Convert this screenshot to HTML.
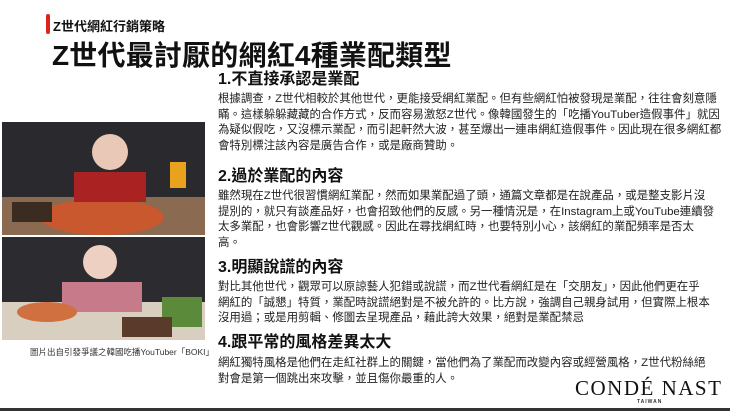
<!DOCTYPE html>
<html><head><meta charset="utf-8"><style>
body{margin:0;width:730px;height:411px;background:#fff;position:relative;overflow:hidden;font-family:"Liberation Sans","Noto Sans CJK TC",sans-serif;color:#111}
.a{position:absolute;white-space:nowrap}
.h{font-size:16px;line-height:18px;font-weight:bold;left:218px}
.p{font-size:11.45px;line-height:15.6px;left:218px;color:#222}
</style></head><body>
<div class="a" style="left:46px;top:14px;width:4px;height:20px;background:#d9261c;border-radius:2px"></div>
<div class="a" style="left:53px;top:16px;font-size:13px;font-weight:bold">Z世代網紅行銷策略</div>
<div class="a" style="left:52px;top:34px;font-size:28px;font-weight:bold;letter-spacing:0.2px">Z世代最討厭的網紅4種業配類型</div>

<svg class="a" style="left:2px;top:122px" width="203" height="113">
<rect width="203" height="113" fill="#2a2a2e"/><rect y="75" width="203" height="38" fill="#8a6a50"/>
<ellipse cx="100" cy="95" rx="62" ry="18" fill="#c9582e"/><circle cx="108" cy="30" r="18" fill="#e9c8b8"/>
<rect x="72" y="50" width="72" height="30" fill="#a22"/><rect x="168" y="40" width="16" height="26" fill="#e9a21e"/>
<rect x="10" y="80" width="40" height="20" fill="#3a2c20"/></svg>
<svg class="a" style="left:2px;top:237px" width="203" height="103">
<rect width="203" height="103" fill="#2c2c30"/><rect y="65" width="203" height="38" fill="#d9cfc0"/>
<rect x="60" y="45" width="80" height="30" fill="#c77b8a"/><circle cx="98" cy="25" r="17" fill="#edd0c2"/>
<ellipse cx="45" cy="75" rx="30" ry="10" fill="#d07040"/><rect x="160" y="60" width="40" height="30" fill="#5a8a3a"/>
<rect x="120" y="80" width="50" height="20" fill="#5a3a2a"/></svg>
<div class="a" style="left:30px;top:346px;font-size:8.5px;color:#333">圖片出自引發爭議之韓國吃播YouTuber「BOKI」</div>

<div class="a h" style="top:71px">1.不直接承認是業配</div>
<div class="a p" style="top:92px">根據調查，Z世代相較於其他世代，更能接受網紅業配。但有些網紅怕被發現是業配，往往會刻意隱<br>瞞。這樣躲躲藏藏的合作方式，反而容易激怒Z世代。像韓國發生的「吃播YouTuber造假事件」就因<br>為疑似假吃，又沒標示業配，而引起軒然大波，甚至爆出一連串網紅造假事件。因此現在很多網紅都<br>會特別標注該內容是廣告合作，或是廠商贊助。</div>

<div class="a h" style="top:168px">2.過於業配的內容</div>
<div class="a p" style="top:189px">雖然現在Z世代很習慣網紅業配，然而如果業配過了頭，通篇文章都是在說產品，或是整支影片沒<br>提別的，就只有談產品好，也會招致他們的反感。另一種情況是，在Instagram上或YouTube連續發<br>太多業配，也會影響Z世代觀感。因此在尋找網紅時，也要特別小心，該網紅的業配頻率是否太<br>高。</div>

<div class="a h" style="top:259px">3.明顯說謊的內容</div>
<div class="a p" style="top:280px">對比其他世代，觀眾可以原諒藝人犯錯或說謊，而Z世代看網紅是在「交朋友」，因此他們更在乎<br>網紅的「誠懇」特質，業配時說謊絕對是不被允許的。比方說，強調自己親身試用，但實際上根本<br>沒用過；或是用剪輯、修圖去呈現產品，藉此誇大效果，絕對是業配禁忌</div>

<div class="a h" style="top:334px">4.跟平常的風格差異太大</div>
<div class="a p" style="top:356px">網紅獨特風格是他們在走紅社群上的關鍵，當他們為了業配而改變內容或經營風格，Z世代粉絲絕<br>對會是第一個跳出來攻擊，並且傷你最重的人。</div>

<div class="a" style="left:575px;top:376px;font-family:'Liberation Serif',serif;font-size:21px;letter-spacing:1.5px;color:#111">CONDÉ NAST</div>
<div class="a" style="left:637px;top:399px;font-size:5px;font-weight:bold;letter-spacing:1px;color:#333">TAIWAN</div>
<div class="a" style="left:0;top:408px;width:730px;height:3px;background:#333"></div>
</body></html>
